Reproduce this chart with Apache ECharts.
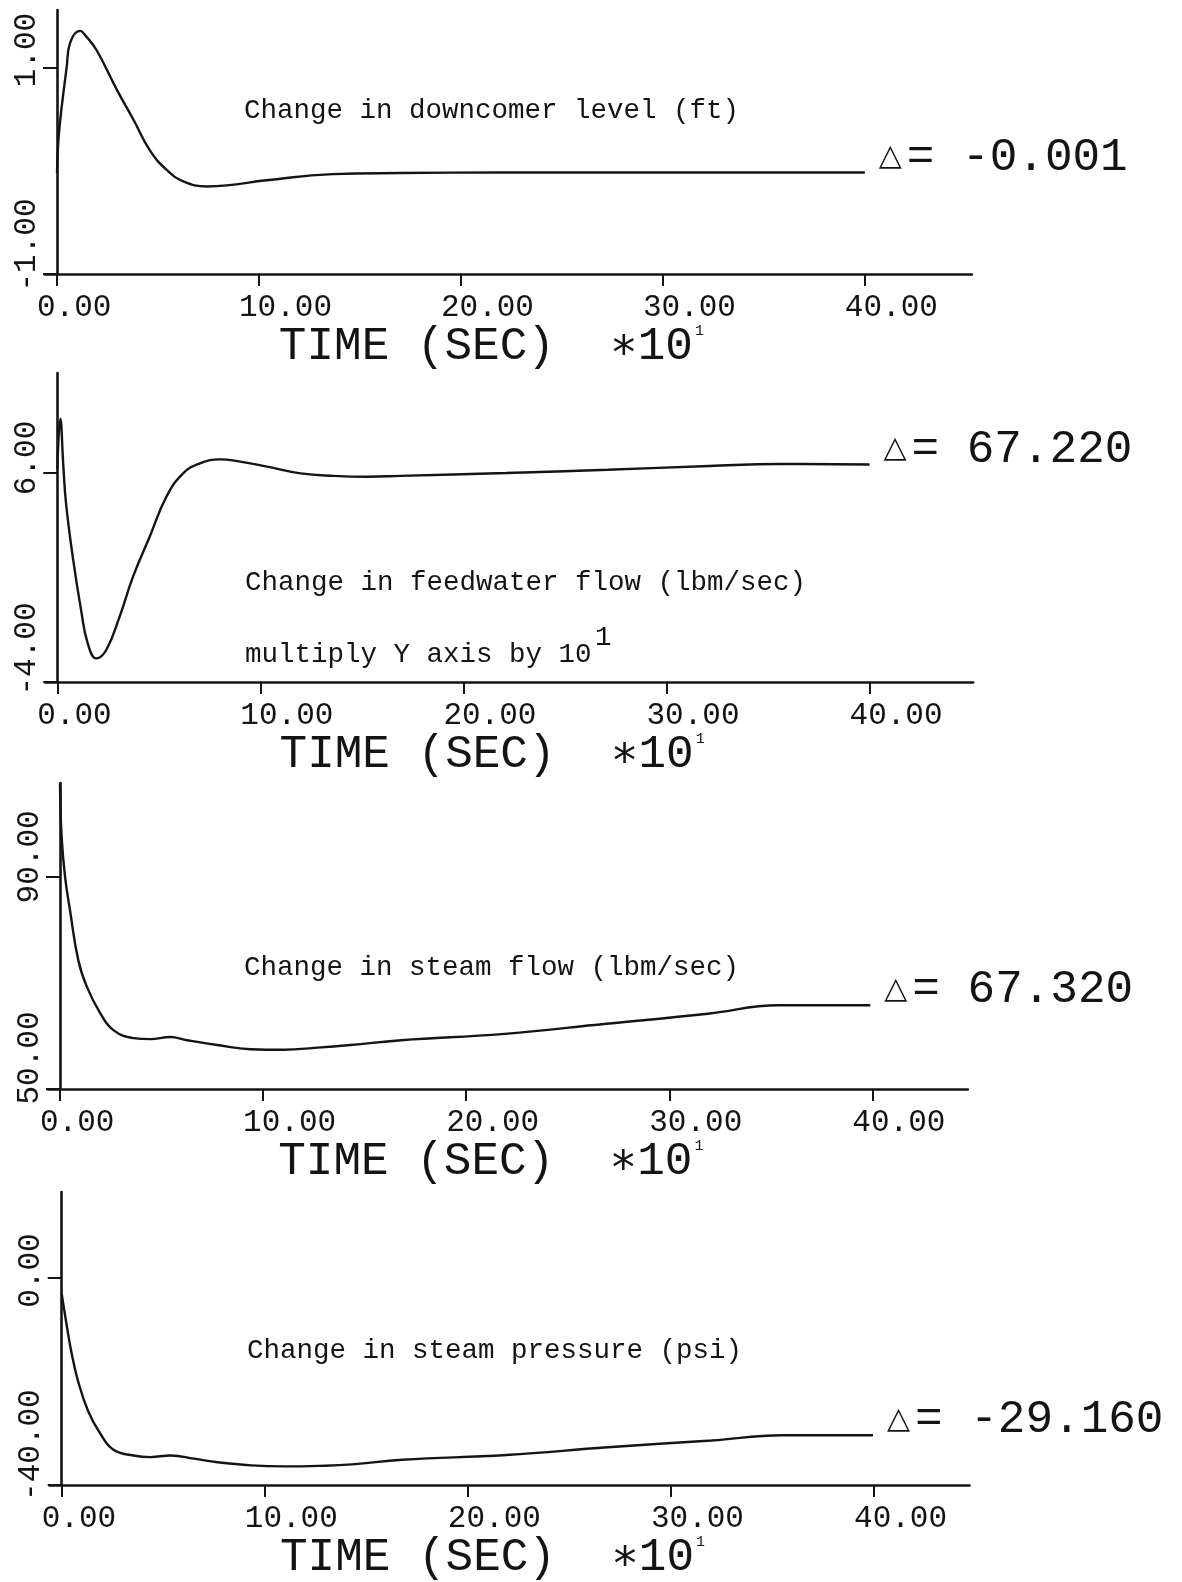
<!DOCTYPE html>
<html>
<head>
<meta charset="utf-8">
<script src="https://cdn.jsdelivr.net/npm/echarts@6/dist/echarts.min.js"></script>
<style>
html,body{margin:0;padding:0;background:#ffffff;}
#chart{width:1182px;height:1582px;}
</style>
</head>
<body>
<div id="chart"></div>
<script>
// ---------------- DATA ----------------
// x axis: TIME (SEC) x10^1
const xTickValues = [0, 10, 20, 30, 40];

// Panel 1: change in downcomer level (ft)
const levelTime  = [0, 0.11, 0.48, 0.64, 1.14, 1.47, 1.97, 2.96, 3.78, 4.6, 5.43, 6.25, 7.41, 8.4, 10.38, 13.66, 16.98, 22, 28, 34, 40];
const levelValue = [-0.02, 0.40, 1.01, 1.24, 1.36, 1.30, 1.17, 0.79, 0.50, 0.20, 0.01, -0.10, -0.15, -0.14, -0.09, -0.03, -0.02, -0.015, -0.015, -0.015, -0.015];

// Panel 2: change in feedwater flow (lbm/sec), plotted in units of 10^1
const feedTime  = [0, 0.15, 0.3, 0.43, 0.76, 1.17, 1.5, 1.92, 2.41, 3.07, 3.73, 4.55, 5.38, 6.2, 7.03, 8.02, 9.0, 10.33, 11.98, 13.6, 15.3, 16.9, 22.1, 27.1, 32.1, 35.6, 40.0];
const feedValue = [6.2, 8.6, 6.3, 4.55, 2.0, -0.55, -2.15, -2.87, -2.47, -0.87, 1.04, 2.95, 4.87, 5.98, 6.46, 6.65, 6.54, 6.3, 5.98, 5.86, 5.82, 5.86, 6.0, 6.15, 6.33, 6.43, 6.4];

// Panel 3: change in steam flow (lbm/sec)
const steamTime  = [0, 0.08, 0.25, 0.49, 0.9, 1.32, 1.98, 2.63, 3.62, 4.44, 5.43, 6.26, 7.74, 9.38, 11.0, 12.68, 14.3, 16.8, 21.9, 26.9, 31.9, 35.4, 39.9];
const steamValue = [107.7, 97.6, 90, 83.8, 74.3, 69.3, 64.3, 61.1, 59.6, 59.4, 59.8, 59.2, 58.3, 57.5, 57.4, 57.8, 58.3, 59.2, 60.4, 62.3, 64.2, 65.8, 65.8];

// Panel 4: change in steam pressure (psi)
const pressTime  = [0, 0.23, 0.48, 0.81, 1.3, 1.89, 2.55, 3.54, 4.37, 5.36, 6.52, 7.68, 9.33, 10.98, 12.64, 14.3, 16.77, 21.9, 26.9, 32, 35.5, 39.95];
const pressValue = [-3.1, -8.8, -14.4, -20.0, -25.7, -30.0, -33.2, -34.3, -34.6, -34.3, -34.9, -35.6, -36.2, -36.4, -36.3, -36.0, -35.1, -34.2, -32.7, -31.4, -30.4, -30.4];

// y tick values per panel
const levelTicks = [-1, 1];
const feedTicks  = [-4, 6];
const steamTicks = [50, 90];
const pressTicks = [-40, 0];

// texts
const panelTitles = ['Change in downcomer level (ft)', 'Change in feedwater flow (lbm/sec)', 'Change in steam flow (lbm/sec)', 'Change in steam pressure (psi)'];
const deltaLabels = ['-0.001', '67.220', '67.320', '-29.160'];
const scaleNote = 'multiply Y axis by 10';
const scaleNoteExp = '1';
const xAxisTitle = 'TIME (SEC)  \u221710';
const xAxisExp = '1';

// ---------------- LAYOUT / STYLE ----------------
const INK = '#141414';
const PLOT_FONT = '"Liberation Mono", "DejaVu Sans Mono", monospace';
const TYPE_FONT = '"Liberation Mono", "DejaVu Sans Mono", monospace';

const panels = [
  {time: levelTime, value: levelValue, ticks: levelTicks, yMax: 1.563,
   left: 44.9, top: 10, width: 927, height: 264, xMax: 45.3,
   shiftTop: 18, shiftBot: 29, titleLeft: 244, titleTop: 97, nameGap: 47},
  {time: feedTime, value: feedValue, ticks: feedTicks, yMax: 10.78,
   left: 45.1, top: 373, width: 928, height: 309, xMax: 45.1,
   shiftTop: 15, shiftBot: 33, titleLeft: 245, titleTop: 569, nameGap: 45},
  {time: steamTime, value: steamValue, ticks: steamTicks, yMax: 107.7,
   left: 47.8, top: 783, width: 920, height: 306, xMax: 44.7,
   shiftTop: 20, shiftBot: 31, titleLeft: 244, titleTop: 954, nameGap: 45},
  {time: pressTime, value: pressValue, ticks: pressTicks, yMax: 16.5,
   left: 49.5, top: 1192, width: 920, height: 301, xMax: 44.7,
   shiftTop: 7, shiftBot: 40, titleLeft: 247, titleTop: 1337, nameGap: 44}
];

const grids = [], xAxes = [], yAxes = [], series = [], graphics = [];

panels.forEach((p, i) => {
  grids.push({left: p.left, top: p.top, width: p.width, height: p.height, containLabel: false});

  xAxes.push({
    gridIndex: i, type: 'value', min: -0.6, max: p.xMax,
    axisLine: {show: true, onZero: false, lineStyle: {color: INK, width: 2.6}},
    axisTick: {show: true, customValues: xTickValues, length: 12, lineStyle: {color: INK, width: 2}},
    axisLabel: {
      show: true, customValues: xTickValues,
      formatter: v => Number(v).toFixed(2),
      fontFamily: PLOT_FONT, fontSize: 31, color: INK,
      align: 'left', padding: [0, 0, 0, -20], margin: 18
    },
    splitLine: {show: false},
    name: '{a|' + xAxisTitle + '}{s|' + xAxisExp + '}',
    nameLocation: 'middle', nameGap: p.nameGap,
    nameTextStyle: {
      padding: [0, 34, 0, 0],
      rich: {
        a: {fontFamily: PLOT_FONT, fontSize: 46, color: INK},
        s: {fontFamily: PLOT_FONT, fontSize: 15, color: INK, verticalAlign: 'top', padding: [0, 0, 0, 2]}
      }
    }
  });

  const yMin = p.ticks[0];
  yAxes.push({
    gridIndex: i, type: 'value', min: yMin, max: p.yMax,
    axisLine: {show: true, onZero: true, lineStyle: {color: INK, width: 2.6}},
    axisTick: {show: true, customValues: p.ticks, length: 14, lineStyle: {color: INK, width: 2}},
    axisLabel: {
      show: true, customValues: p.ticks, rotate: 90, margin: 3,
      fontFamily: PLOT_FONT, fontSize: 31, color: INK,
      formatter: v => (v === yMin ? '{b|' : '{t|') + Number(v).toFixed(2) + '}',
      rich: {
        t: {fontFamily: PLOT_FONT, fontSize: 31, color: INK, padding: [0, 0, 0, 2 * p.shiftTop]},
        b: {fontFamily: PLOT_FONT, fontSize: 31, color: INK, padding: [0, 0, 0, 2 * p.shiftBot]}
      }
    },
    splitLine: {show: false}
  });

  series.push({
    type: 'line', xAxisIndex: i, yAxisIndex: i,
    data: p.time.map((t, k) => [t, p.value[k]]),
    showSymbol: false, symbol: 'none',
    smooth: 0.45,
    lineStyle: {color: INK, width: 2.4},
    endLabel: {
      show: true, distance: 14, offset: [0, -15],
      formatter: () => '{d|\u25B3}{e|= ' + deltaLabels[i] + '}',
      rich: {
        d: {fontFamily: '"DejaVu Sans", sans-serif', fontSize: 30, color: INK, width: 28},
        e: {fontFamily: PLOT_FONT, fontSize: 46, color: INK}
      }
    }
  });

  graphics.push({
    type: 'text', left: p.titleLeft, top: p.titleTop,
    style: {text: panelTitles[i], fontFamily: TYPE_FONT, fontSize: 27.5, fill: INK}
  });
});

// scale note in panel 2
graphics.push({
  type: 'text', left: 245, top: 641,
  style: {text: scaleNote, fontFamily: TYPE_FONT, fontSize: 27.5, fill: INK}
});
graphics.push({
  type: 'text', left: 595, top: 624,
  style: {text: scaleNoteExp, fontFamily: TYPE_FONT, fontSize: 27.5, fill: INK}
});

const chart = echarts.init(document.getElementById('chart'), null, {renderer: 'canvas'});
chart.setOption({
  animation: false,
  backgroundColor: '#ffffff',
  grid: grids,
  xAxis: xAxes,
  yAxis: yAxes,
  series: series,
  graphic: graphics
});
</script>
</body>
</html>
